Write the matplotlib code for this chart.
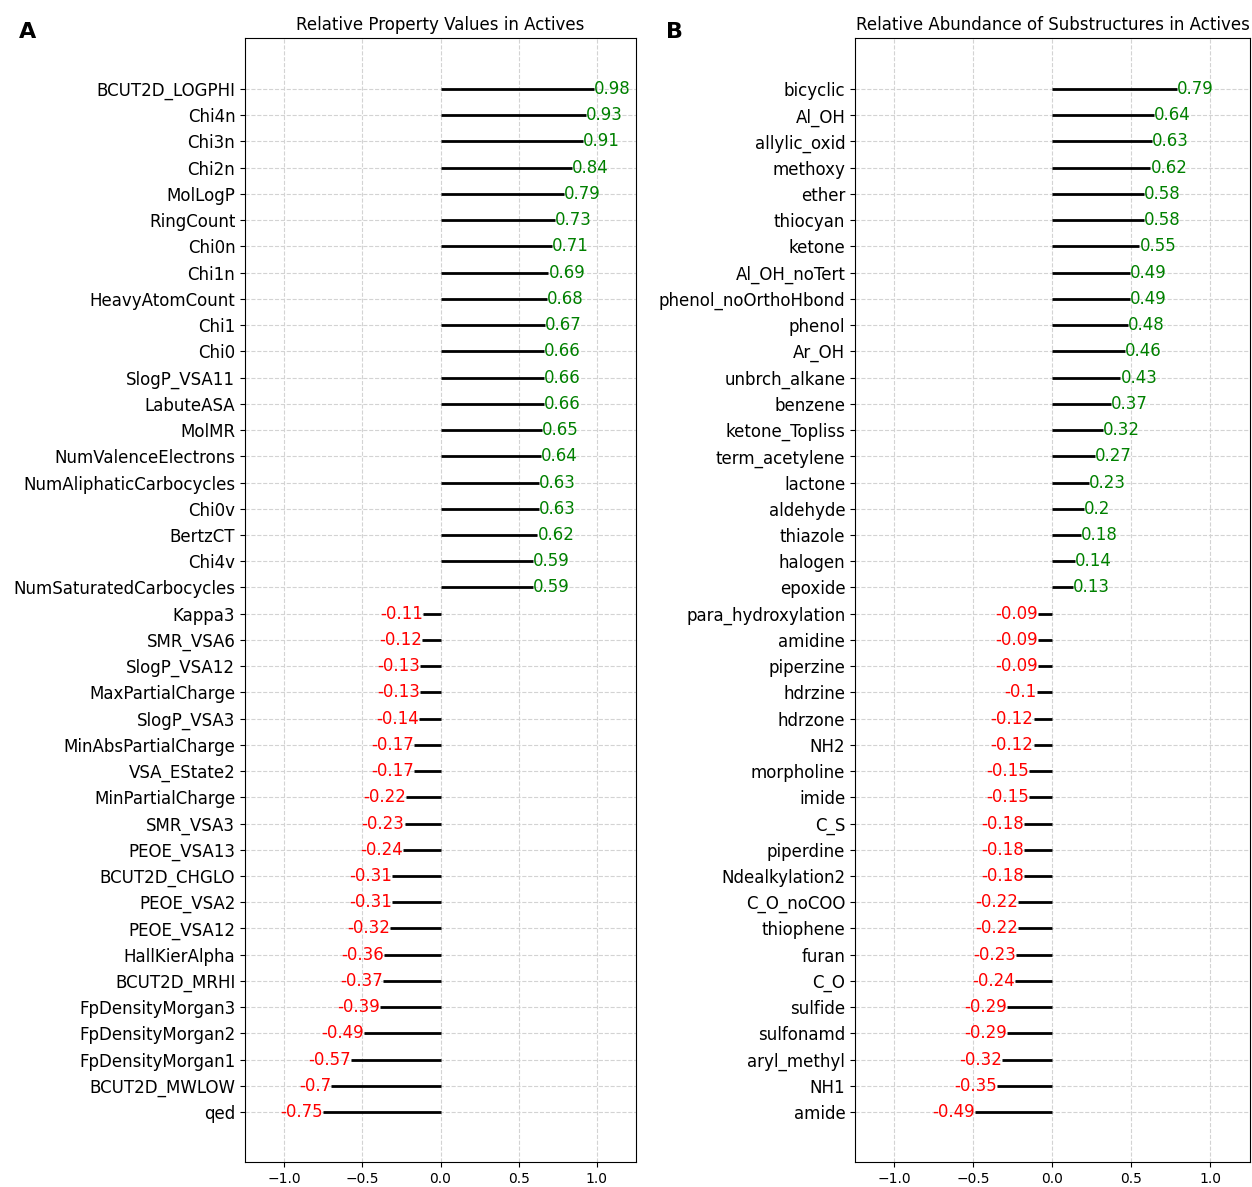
import matplotlib
matplotlib.use("Agg")
import matplotlib.pyplot as plt

# panel A: descriptors (top to bottom)
prop_names = ["BCUT2D_LOGPHI", "Chi4n", "Chi3n", "Chi2n", "MolLogP", "RingCount", "Chi0n", "Chi1n",
              "HeavyAtomCount", "Chi1", "Chi0", "SlogP_VSA11", "LabuteASA", "MolMR", "NumValenceElectrons",
              "NumAliphaticCarbocycles", "Chi0v", "BertzCT", "Chi4v", "NumSaturatedCarbocycles",
              "Kappa3", "SMR_VSA6", "SlogP_VSA12", "MaxPartialCharge", "SlogP_VSA3", "MinAbsPartialCharge",
              "VSA_EState2", "MinPartialCharge", "SMR_VSA3", "PEOE_VSA13", "BCUT2D_CHGLO", "PEOE_VSA2",
              "PEOE_VSA12", "HallKierAlpha", "BCUT2D_MRHI", "FpDensityMorgan3", "FpDensityMorgan2",
              "FpDensityMorgan1", "BCUT2D_MWLOW", "qed"]
prop_vals = [0.98, 0.93, 0.91, 0.84, 0.79, 0.73, 0.71, 0.69, 0.68, 0.67, 0.66, 0.66, 0.66, 0.65, 0.64,
             0.63, 0.63, 0.62, 0.59, 0.59,
             -0.11, -0.12, -0.13, -0.13, -0.14, -0.17, -0.17, -0.22, -0.23, -0.24, -0.31, -0.31,
             -0.32, -0.36, -0.37, -0.39, -0.49, -0.57, -0.7, -0.75]

# panel B: substructures (top to bottom)
sub_names = ["bicyclic", "Al_OH", "allylic_oxid", "methoxy", "ether", "thiocyan", "ketone", "Al_OH_noTert",
             "phenol_noOrthoHbond", "phenol", "Ar_OH", "unbrch_alkane", "benzene", "ketone_Topliss",
             "term_acetylene", "lactone", "aldehyde", "thiazole", "halogen", "epoxide",
             "para_hydroxylation", "amidine", "piperzine", "hdrzine", "hdrzone", "NH2", "morpholine",
             "imide", "C_S", "piperdine", "Ndealkylation2", "C_O_noCOO", "thiophene", "furan", "C_O",
             "sulfide", "sulfonamd", "aryl_methyl", "NH1", "amide"]
sub_vals = [0.79, 0.64, 0.63, 0.62, 0.58, 0.58, 0.55, 0.49, 0.49, 0.48, 0.46, 0.43, 0.37, 0.32,
            0.27, 0.23, 0.2, 0.18, 0.14, 0.13,
            -0.09, -0.09, -0.09, -0.1, -0.12, -0.12, -0.15, -0.15, -0.18, -0.18, -0.18, -0.22, -0.22,
            -0.23, -0.24, -0.29, -0.29, -0.32, -0.35, -0.49]


def lollipop(ax, names, vals, title):
    n = len(names)
    ys = [n - 1 - i for i in range(n)]
    ax.hlines(ys, 0, vals, color="black", linewidth=2, zorder=3)
    for y, v in zip(ys, vals):
        if v >= 0:
            ax.text(v, y, str(v), color="green", ha="left", va="center", fontsize=12, zorder=4)
        else:
            ax.text(v, y, str(v), color="red", ha="right", va="center", fontsize=12, zorder=4)
    ax.set_yticks(ys)
    ax.set_yticklabels(names, fontsize=12)
    ax.set_xlim(-1.25, 1.25)
    ax.set_ylim(-1.9, n - 1 + 1.95)
    ax.set_xticks([-1.0, -0.5, 0.0, 0.5, 1.0])
    ax.tick_params(axis="x", labelsize=10)
    ax.grid(True, linestyle="--", color="lightgray", linewidth=0.8, zorder=0)
    ax.set_axisbelow(True)
    ax.set_title(title, fontsize=12, pad=6)


fig = plt.figure(figsize=(12.52, 11.87), dpi=100)
ax1 = fig.add_axes([0.1957, 0.0211, 0.3123, 0.947])
ax2 = fig.add_axes([0.6829, 0.0211, 0.3155, 0.947])

lollipop(ax1, prop_names, prop_vals, "Relative Property Values in Actives")
lollipop(ax2, sub_names, sub_vals, "Relative Abundance of Substructures in Actives")

fig.text(0.015, 0.973, "A", fontsize=16, fontweight="bold", va="center")
fig.text(0.532, 0.973, "B", fontsize=16, fontweight="bold", va="center")

fig.savefig("out.png", dpi=100)
